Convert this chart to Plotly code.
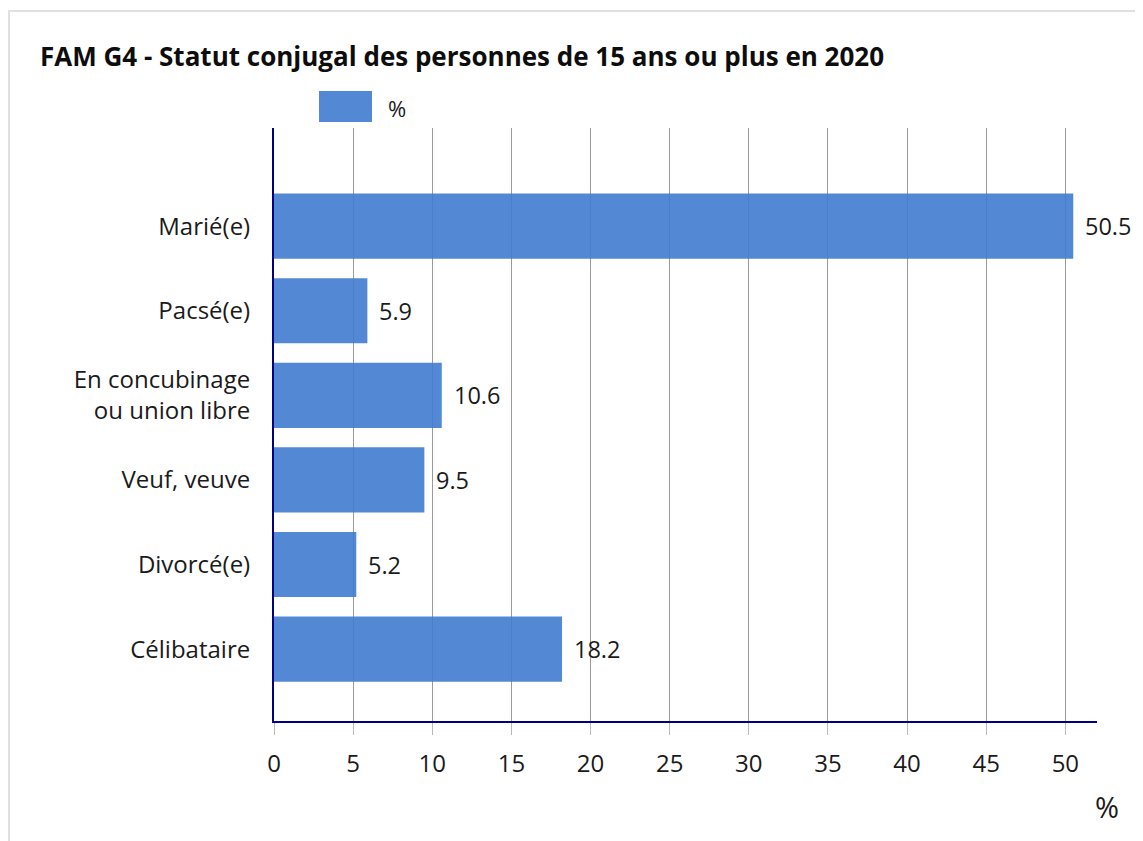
import plotly.graph_objects as go

categories = ["Marié(e)", "Pacsé(e)", "En concubinage<br>ou union libre", "Veuf, veuve", "Divorcé(e)", "Célibataire"]
values = [50.5, 5.9, 10.6, 9.5, 5.2, 18.2]
labels = ["50.5", "5.9", "10.6", "9.5", "5.2", "18.2"]
series_name = "%"
title = "FAM G4 - Statut conjugal des personnes de 15 ans ou plus en 2020"
x_ticks = [0, 5, 10, 15, 20, 25, 30, 35, 40, 45, 50]

FONT = "Open Sans, Noto Sans, sans-serif"
BAR = "rgba(64,124,207,0.9)"
TXT = "#1a1a1a"

# page is offset by the 8px body margin
OFF = 8
W, H = 1135, 833
L, R, T, B = 274 - OFF, 46, 128 - OFF, 120
pw, ph = W - L - R, H - T - B


def px(x):  # screen x -> paper
    return (x - OFF - L) / pw


def py(y):  # screen y -> paper
    return 1 - (y - OFF - T) / ph


fig = go.Figure()
fig.add_trace(go.Bar(
    y=categories, x=values, orientation="h", name=series_name,
    marker=dict(color=BAR, line=dict(width=0)),
    width=0.77, showlegend=False, hoverinfo="x+y",
))

for c, v, t in zip(categories, values, labels):
    fig.add_annotation(x=v, y=c, text=t, showarrow=False, xanchor="left",
                       yanchor="middle", xshift=10,
                       font=dict(family=FONT, size=23.5, color=TXT))

# outer frame (top/left visible)
fig.add_shape(type="rect", xref="paper", yref="paper",
              x0=px(9), y0=py(900), x1=px(1200), y1=py(11),
              line=dict(color="#e0e0e0", width=2), fillcolor="rgba(0,0,0,0)", layer="below")

# legend
fig.add_shape(type="rect", xref="paper", yref="paper",
              x0=px(319), x1=px(372), y0=py(122), y1=py(91),
              line=dict(width=0), fillcolor=BAR)
fig.add_annotation(xref="paper", yref="paper", x=px(386), y=py(108), text=series_name,
                   showarrow=False, xanchor="left", yanchor="middle",
                   font=dict(family=FONT, size=22, color=TXT))

# x axis title
fig.add_annotation(xref="paper", yref="paper", x=px(1107), y=py(806), text="%",
                   showarrow=False, xanchor="center", yanchor="middle",
                   font=dict(family=FONT, size=29, color=TXT))

fig.update_layout(
    width=W, height=H,
    margin=dict(l=L, r=R, t=T, b=B, autoexpand=False),
    paper_bgcolor="white", plot_bgcolor="white",
    title=dict(text="<b>" + title + "</b>", x=(40 - OFF) / W, xanchor="left",
               y=1 - (57 - OFF) / H, yanchor="middle",
               font=dict(family=FONT, size=26, color="#0d0d0d")),
    font=dict(family=FONT, size=24, color=TXT),
)
fig.update_xaxes(
    range=[0, 52], tickvals=x_ticks, ticktext=[str(t) for t in x_ticks],
    showgrid=True, gridcolor="#9a9a9a", gridwidth=1,
    zeroline=False, showline=True, linecolor="#000080", linewidth=2,
    ticks="outside", ticklen=12, tickcolor="#bbbbbb", tickwidth=1,
    ticklabelstandoff=8,
    tickfont=dict(family=FONT, size=24, color=TXT),
)
fig.update_yaxes(
    type="category", categoryorder="array", categoryarray=categories,
    range=[5.85, -1.16], showgrid=False, zeroline=False,
    showline=True, linecolor="#000080", linewidth=2,
    ticks="", ticklabelstandoff=17,
    tickfont=dict(family=FONT, size=24, color=TXT),
)

fig.write_html("out.html")
